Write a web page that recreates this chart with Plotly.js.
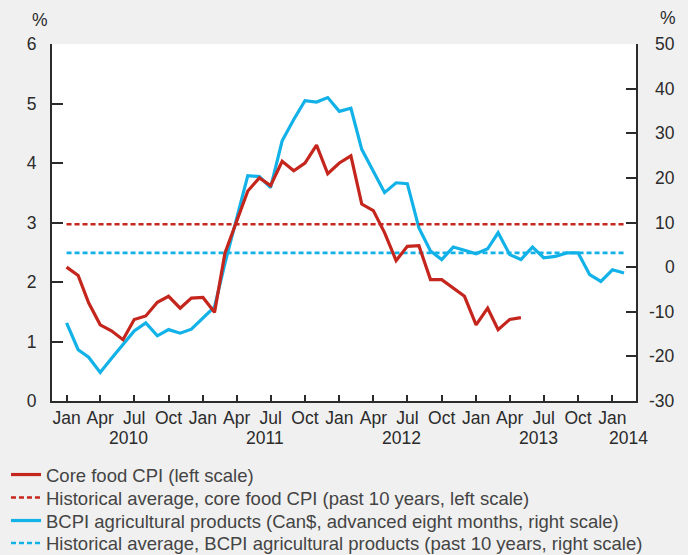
<!DOCTYPE html>
<html>
<head>
<meta charset="utf-8">
<script src="https://cdn.plot.ly/plotly-3.0.1.min.js"></script>
<style>
  body { margin: 0; background: #f0f0f0; }
  #plotArea { width: 688px; height: 555px; }
</style>
</head>
<body>
<div id="plotArea"></div>
<script>
// monthly values, starting Jan 2010
var coreFoodCpi = [
  2.25, 2.11, 1.65, 1.28, 1.18, 1.03, 1.37, 1.43, 1.66, 1.76, 1.56, 1.73,
  1.74, 1.49, 2.49, 3.00, 3.53, 3.75, 3.62, 4.03, 3.87, 4.00, 4.30, 3.82,
  4.00, 4.12, 3.31, 3.20, 2.83, 2.36, 2.60, 2.61, 2.04, 2.04, 1.90, 1.76,
  1.28, 1.56, 1.20, 1.37, 1.40
];
var bcpiAgri = [
  -12.5, -18.5, -20.2, -23.6, -20.5, -17.3, -14.3, -12.5, -15.4, -14.0, -14.8, -13.9,
  -11.4, -8.9, 0.9, 10.7, 20.5, 20.3, 17.8, 28.3, 33.1, 37.3, 37.0, 38.0,
  34.9, 35.6, 26.4, 21.5, 16.7, 18.9, 18.7, 8.8, 3.6, 1.7, 4.5, 3.8,
  3.0, 4.1, 7.7, 2.8, 1.7, 4.5, 2.1, 2.4, 3.2, 3.2, -1.7, -3.2,
  -0.6, -1.3
];
var coreFoodAvg = 2.97;
var bcpiAvg = 3.2;

var monthNames = ["Jan", "Apr", "Jul", "Oct"];
var yearLabels = ["2010", "2011", "2012", "2013", "2014"];
var yearPos = ["2010-06-16", "2011-06-16", "2012-06-16", "2013-06-16", "2014-02-12"];
var rightTicks = [-30, -20, -10, 0, 10, 20, 30, 40, 50];

// month dates for the series
function monthDate(i) {
  var y = 2010 + Math.floor(i / 12);
  var m = (i % 12) + 1;
  return y + "-" + (m < 10 ? "0" + m : m) + "-01";
}
var months = [];
for (var i = 0; i < bcpiAgri.length; i++) months.push(monthDate(i));
var cpiMonths = months.slice(0, coreFoodCpi.length);
var avgSpan = [months[0], months[months.length - 1]];

// quarterly ticks with labels, plus longer ticks at each January
var tickVals = [], tickText = [], janVals = [];
for (var q = 0; q <= 48; q += 3) {
  tickVals.push(monthDate(q));
  tickText.push(monthNames[(q % 12) / 3]);
  if (q % 12 === 0) janVals.push(monthDate(q));
}

var red = "#c4261d";
var blue = "#12b2e8";
var ink = "#2b2b2b";
var xRange = ["2009-11-23", "2014-03-05"];

var traces = [
  {x: cpiMonths, y: coreFoodCpi, yaxis: "y2", type: "scatter", mode: "lines",
   name: "Core food CPI (left scale)", legend: "legend",
   line: {color: red, width: 3.2}},
  {x: avgSpan, y: [coreFoodAvg, coreFoodAvg], yaxis: "y2", type: "scatter", mode: "lines",
   name: "Historical average, core food CPI (past 10 years, left scale)", legend: "legend2",
   line: {color: red, width: 2.6, dash: "5px,3px"}},
  {x: months, y: bcpiAgri, yaxis: "y", type: "scatter", mode: "lines",
   name: "BCPI agricultural products (Can$, advanced eight months, right scale)", legend: "legend3",
   line: {color: blue, width: 3.2}},
  {x: avgSpan, y: [bcpiAvg, bcpiAvg], yaxis: "y", type: "scatter", mode: "lines",
   name: "Historical average, BCPI agricultural products (past 10 years, right scale)", legend: "legend4",
   line: {color: blue, width: 2.6, dash: "5px,3px"}}
];

var annotations = [];
// year labels under the month ticks
for (var k = 0; k < yearLabels.length; k++) {
  annotations.push({x: yearPos[k], y: 0, xref: "x", yref: "paper", yanchor: "middle",
    yshift: -37, text: yearLabels[k], showarrow: false, font: {size: 17.5, color: ink}});
}
// right scale labels, right-aligned
for (var r = 0; r < rightTicks.length; r++) {
  annotations.push({x: 1, y: rightTicks[r], xref: "paper", yref: "y", xanchor: "right",
    yanchor: "middle", xshift: 41, text: String(rightTicks[r]), showarrow: false,
    font: {size: 17.5, color: ink}});
}
annotations.push({x: 0, y: 1, xref: "paper", yref: "paper", xanchor: "center", yanchor: "middle",
  xshift: -12.5, yshift: 24, text: "%", showarrow: false, font: {size: 17.5, color: ink}});
annotations.push({x: 1, y: 1, xref: "paper", yref: "paper", xanchor: "center", yanchor: "middle",
  xshift: 31.5, yshift: 26, text: "%", showarrow: false, font: {size: 17.5, color: ink}});

// one legend box per row so the rows sit as tight as in the reference
function legendBox(yPaper) {
  return {x: -0.0788, xanchor: "left", y: yPaper, yanchor: "middle",
    bgcolor: "rgba(0,0,0,0)", font: {size: 18.5, color: "#444"}};
}

var layout = {
  width: 688, height: 555,
  paper_bgcolor: "#f0f0f0",
  plot_bgcolor: "#ffffff",
  margin: {l: 52, r: 52, t: 44, b: 154, autoexpand: false},
  font: {family: "Liberation Sans, Arial, sans-serif", size: 17.5, color: ink},
  showlegend: true,
  legend: legendBox(-0.2073),
  legend2: legendBox(-0.2717),
  legend3: legendBox(-0.3361),
  legend4: legendBox(-0.3992),
  xaxis: {type: "date", range: xRange,
    tickvals: tickVals, ticktext: tickText,
    ticks: "inside", ticklen: 6, tickwidth: 2, tickcolor: ink,
    showline: true, linecolor: ink, linewidth: 2, showgrid: false, zeroline: false},
  xaxis2: {type: "date", range: xRange, overlaying: "x", anchor: "y", side: "bottom",
    tickvals: janVals, showticklabels: false,
    ticks: "inside", ticklen: 11, tickwidth: 2, tickcolor: ink,
    showline: false, showgrid: false, zeroline: false},
  yaxis: {side: "right", range: [-30, 50], tickvals: rightTicks, showticklabels: false,
    ticks: "inside", ticklen: 10, tickwidth: 2, tickcolor: ink,
    showline: true, linecolor: ink, linewidth: 2, showgrid: false, zeroline: false},
  yaxis2: {overlaying: "y", side: "left", range: [0, 6], dtick: 1,
    ticks: "inside", ticklen: 11, tickwidth: 2, tickcolor: ink, ticklabelstandoff: 10,
    showline: true, linecolor: ink, linewidth: 2, showgrid: false, zeroline: false},
  annotations: annotations
};

Plotly.newPlot("plotArea", traces, layout, {staticPlot: true});
</script>
</body>
</html>
